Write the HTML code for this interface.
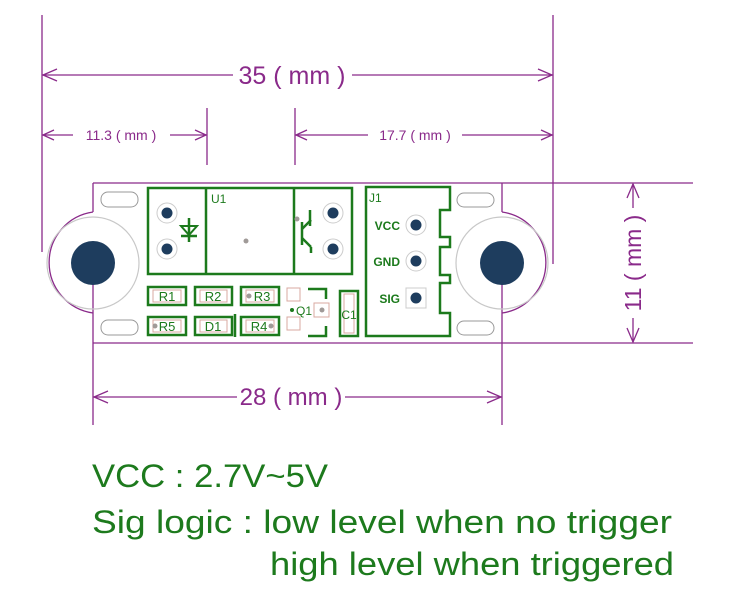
<!DOCTYPE html>
<html><head><meta charset="utf-8"><style>
html,body{margin:0;padding:0;background:#fff;}
svg{display:block;}
</style></head><body>
<svg width="754" height="591" viewBox="0 0 754 591" xmlns="http://www.w3.org/2000/svg">
<g stroke="#8a2a8a" stroke-width="1.3" fill="none">
  <line x1="42" y1="15" x2="42" y2="252"/>
  <line x1="553" y1="15" x2="553" y2="264"/>
  <line x1="207" y1="108" x2="207" y2="165"/>
  <line x1="295" y1="108" x2="295" y2="165"/>
  <line x1="42" y1="75" x2="233" y2="75"/>
  <line x1="352" y1="75" x2="553" y2="75"/>
  <polyline points="57,69 43,75 57,81"/>
  <polyline points="538,69 552,75 538,81"/>
  <line x1="42" y1="135" x2="73" y2="135"/>
  <line x1="170" y1="135" x2="207" y2="135"/>
  <polyline points="54,130 43,135 54,140"/>
  <polyline points="195,130 206,135 195,140"/>
  <line x1="295" y1="135" x2="368" y2="135"/>
  <line x1="462" y1="135" x2="553" y2="135"/>
  <polyline points="307,130 296,135 307,140"/>
  <polyline points="541,130 552,135 541,140"/>
  <line x1="93" y1="183" x2="693" y2="183"/>
  <line x1="93" y1="343" x2="693" y2="343"/>
  <line x1="93" y1="183" x2="93" y2="212"/>
  <path d="M93,212 A51,51 0 0 0 93,313"/>
  <line x1="93" y1="263" x2="93" y2="425"/>
  <line x1="502" y1="183" x2="502" y2="212"/>
  <path d="M502,212 A51,51 0 0 1 502,313"/>
  <line x1="502" y1="263" x2="502" y2="425"/>
  <line x1="93" y1="397" x2="237" y2="397"/>
  <line x1="345" y1="397" x2="502" y2="397"/>
  <polyline points="108,391 94,397 108,403"/>
  <polyline points="487,391 501,397 487,403"/>
  <line x1="633" y1="184" x2="633" y2="208"/>
  <line x1="633" y1="318" x2="633" y2="342"/>
  <polyline points="627,198 633,184 639,198"/>
  <polyline points="627,328 633,342 639,328"/>
</g>
<g fill="#8a2a8a" font-family="'Liberation Sans', sans-serif">
  <text x="292" y="84" font-size="25" text-anchor="middle">35 ( mm )</text>
  <text x="121" y="140" font-size="14" text-anchor="middle">11.3 ( mm )</text>
  <text x="415" y="140" font-size="14" text-anchor="middle">17.7 ( mm )</text>
  <text x="291" y="405" font-size="24" text-anchor="middle">28 ( mm )</text>
  <text transform="translate(641,263) rotate(-90)" font-size="23" text-anchor="middle">11 ( mm )</text>
</g>
<g>
  <circle cx="93" cy="263" r="46" fill="none" stroke="#c8c8c8" stroke-width="1.2"/>
  <circle cx="93" cy="263" r="22" fill="#1e3d5e"/>
  <circle cx="502" cy="263" r="46" fill="none" stroke="#c8c8c8" stroke-width="1.2"/>
  <circle cx="502" cy="263" r="22" fill="#1e3d5e"/>
  <g fill="none" stroke="#999" stroke-width="1">
    <rect x="101" y="192" width="37" height="15" rx="7"/>
    <rect x="101" y="320" width="37" height="15" rx="7"/>
    <rect x="457" y="193" width="37" height="14" rx="7"/>
    <rect x="457" y="321" width="37" height="14" rx="7"/>
  </g>
</g>
<g stroke="#1c7a1c" stroke-width="2.5" fill="none">
  <rect x="148" y="188" width="204" height="86"/>
  <line x1="206" y1="188" x2="206" y2="274"/>
  <line x1="294" y1="188" x2="294" y2="274"/>
  <line x1="189" y1="218" x2="189" y2="242"/>
  <line x1="181" y1="236" x2="197" y2="236"/>
  <polygon points="181,226 197,226 189,235" stroke-width="2"/>
  <line x1="310" y1="210" x2="310" y2="226"/>
  <line x1="302" y1="222" x2="302" y2="245"/>
  <line x1="302" y1="229" x2="311" y2="220"/>
  <line x1="302" y1="238" x2="311" y2="247"/>
  <line x1="311" y1="247" x2="311" y2="253"/>
</g>
<g>
  <circle cx="167" cy="213" r="10" fill="#fff" stroke="#ccc"/><circle cx="167" cy="213" r="5.5" fill="#1e3d5e"/>
  <circle cx="167" cy="249" r="10" fill="#fff" stroke="#ccc"/><circle cx="167" cy="249" r="5.5" fill="#1e3d5e"/>
  <circle cx="333" cy="213" r="10" fill="#fff" stroke="#ccc"/><circle cx="333" cy="213" r="5.5" fill="#1e3d5e"/>
  <circle cx="333" cy="249" r="10" fill="#fff" stroke="#ccc"/><circle cx="333" cy="249" r="5.5" fill="#1e3d5e"/>
  <circle cx="246" cy="241" r="2.5" fill="#a09a98"/>
  <circle cx="297" cy="219" r="2.5" fill="#a09a98"/>
</g>
<text x="211" y="203" font-family="'Liberation Sans', sans-serif" font-size="12" fill="#1c7a1c">U1</text>
<g stroke="#1c7a1c" stroke-width="2.5" fill="none">
  <rect x="148" y="287" width="38" height="18"/>
  <rect x="195" y="287" width="37" height="18"/>
  <rect x="241" y="287" width="38" height="18"/>
  <rect x="148" y="317" width="38" height="18"/>
  <rect x="195" y="317" width="37" height="18"/>
  <rect x="241" y="317" width="38" height="18"/>
  <line x1="235" y1="314" x2="235" y2="337"/>
  <rect x="340" y="291" width="18" height="45"/>
  <polyline points="308,289 326,289 326,299"/>
  <polyline points="308,336 326,336 326,326"/>
</g>
<g fill="none" stroke="#d9a8a0" stroke-width="1">
  <rect x="153" y="290" width="28" height="12"/><rect x="200" y="290" width="27" height="12"/><rect x="246" y="290" width="28" height="12"/>
  <rect x="153" y="320" width="28" height="12"/><rect x="200" y="320" width="27" height="12"/><rect x="246" y="320" width="28" height="12"/>
  <rect x="287" y="288" width="13" height="13"/><rect x="287" y="317" width="13" height="13"/><rect x="314" y="303" width="15" height="14"/>
  <rect x="344" y="294" width="10" height="39"/>
</g>
<g fill="#a09a98"><circle cx="249" cy="296" r="2.5"/><circle cx="155" cy="326" r="2.5"/><circle cx="271" cy="326" r="2.5"/><circle cx="322" cy="310" r="2.5"/></g>
<circle cx="292" cy="310" r="2" fill="#1c7a1c"/>
<g font-family="'Liberation Sans', sans-serif" font-size="13" fill="#1c7a1c" text-anchor="middle">
  <text x="167" y="301">R1</text><text x="213" y="301">R2</text><text x="262" y="301">R3</text>
  <text x="167" y="331">R5</text><text x="213" y="331">D1</text><text x="259" y="331">R4</text>
  <text x="304" y="315" font-size="12">Q1</text>
  <text x="349" y="319" font-size="12">C1</text>
</g>
<path d="M366,187 H450 V210 H440 V237 H450 V247 H440 V275 H450 V283 H440 V313 H450 V336 H366 Z" fill="none" stroke="#1c7a1c" stroke-width="2.5"/>
<g>
  <circle cx="416" cy="225" r="10" fill="#fff" stroke="#ccc"/><circle cx="416" cy="225" r="5.5" fill="#1e3d5e"/>
  <circle cx="416" cy="261" r="10" fill="#fff" stroke="#ccc"/><circle cx="416" cy="261" r="5.5" fill="#1e3d5e"/>
  <rect x="406" y="288" width="20" height="20" fill="#fff" stroke="#ccc"/><circle cx="416" cy="298" r="5.5" fill="#1e3d5e"/>
</g>
<g font-family="'Liberation Sans', sans-serif" font-size="12" font-weight="bold" fill="#1c7a1c">
  <text x="369" y="202" font-weight="normal">J1</text>
  <text x="400" y="230" text-anchor="end">VCC</text>
  <text x="400" y="266" text-anchor="end">GND</text>
  <text x="400" y="303" text-anchor="end">SIG</text>
</g>
<g font-family="'Liberation Sans', sans-serif" font-size="32" fill="#1d7a1d">
  <text x="92" y="487" textLength="236" lengthAdjust="spacingAndGlyphs">VCC : 2.7V~5V</text>
  <text x="92" y="533" textLength="580" lengthAdjust="spacingAndGlyphs">Sig logic :  low level when no trigger</text>
  <text x="270" y="575" textLength="404" lengthAdjust="spacingAndGlyphs">high level when triggered</text>
</g>
</svg>
</body></html>
